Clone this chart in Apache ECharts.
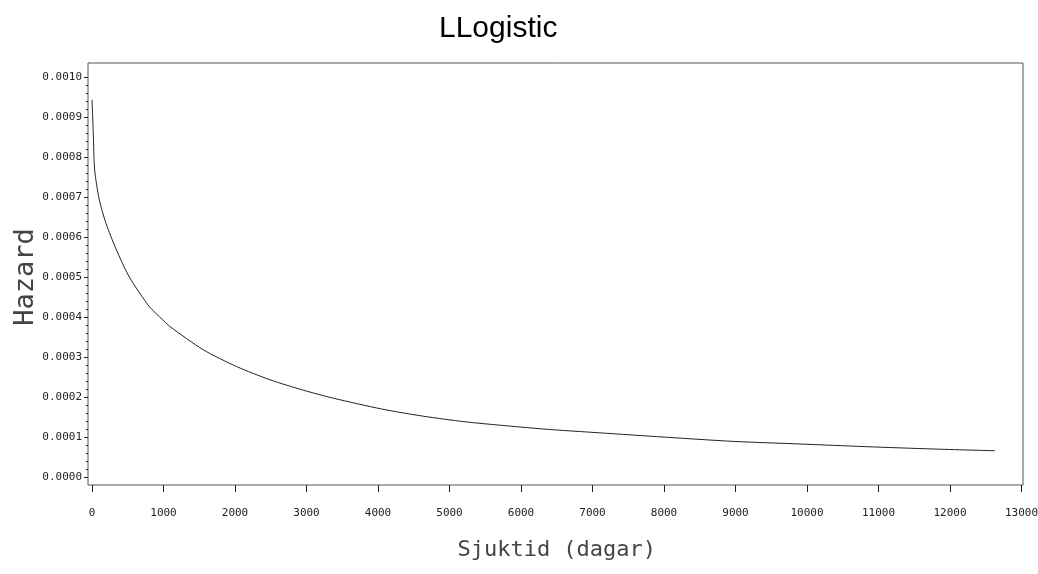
<!DOCTYPE html>
<html>
<head>
<meta charset="utf-8">
<script src="https://cdn.jsdelivr.net/npm/echarts@6/dist/echarts.min.js"></script>
<style>
html,body{margin:0;padding:0;background:#fff;}
#chart{width:1038px;height:574px;}
</style>
</head>
<body>
<div id="chart"></div>
<script>
// Data
var titleText = 'LLogistic';
var xName = 'Sjuktid (dagar)';
var yName = 'Hazard';
var timeDays = [0, 18, 37, 102, 196, 336, 522, 802, 989, 1091, 1557, 2024, 2490, 2956, 3375, 4051, 4634, 5217, 5800, 6382, 6965, 7897, 8969, 9902, 10835, 11767, 12630];
var hazard = [0.000943, 0.000859, 0.000768, 0.000693, 0.000634, 0.000570, 0.000500, 0.000426, 0.000393, 0.000376, 0.000318, 0.000276, 0.000243, 0.000217, 0.000197, 0.000170, 0.000152, 0.000138, 0.000128, 0.000119, 0.000112, 0.000101, 0.0000890, 0.0000825, 0.0000758, 0.0000700, 0.0000656];
var xTicks = {min: 0, max: 13000, interval: 1000};
var yTicks = {min: 0, max: 0.001, interval: 0.0001};

var points = timeDays.map(function (t, i) { return [t, hazard[i]]; });

var chart = echarts.init(document.getElementById('chart'), null, {renderer: 'canvas'});
var tickFont = {fontFamily: 'DejaVu Sans Mono', fontSize: 11, color: '#222'};
var nameFont = {fontFamily: "'DejaVu Sans Mono', monospace", fontWeight: 'normal', color: '#444'};

chart.setOption({
  animation: false,
  backgroundColor: '#ffffff',
  title: {
    text: titleText,
    left: 439,
    top: 14,
    padding: 0,
    textStyle: {fontFamily: "'Liberation Sans', Arial, sans-serif", fontSize: 30, fontWeight: 'normal', color: '#000'}
  },
  grid: [
    {left: 92, right: 16.5, top: 77, bottom: 97, containLabel: false, outerBoundsMode: 'none'},
    {left: 88, right: 15, top: 63, bottom: 89, containLabel: false, outerBoundsMode: 'none', show: true, borderColor: '#555', borderWidth: 1, backgroundColor: 'transparent', z: 0}
  ],
  xAxis: [
    {
      type: 'value', gridIndex: 0, position: 'bottom',
      min: xTicks.min, max: xTicks.max, interval: xTicks.interval,
      offset: 8,
      axisLine: {show: false, onZero: false},
      axisTick: {show: true, inside: false, length: 7, lineStyle: {color: '#222', width: 1}},
      axisLabel: Object.assign({margin: 23, formatter: function (v) { return String(v); }}, tickFont),
      splitLine: {show: false},
      name: xName, nameLocation: 'middle', nameGap: 54, nameMoveOverlap: false,
      nameTextStyle: Object.assign({fontSize: 22}, nameFont)
    },
    {type: 'value', gridIndex: 1, show: false, min: 0, max: 1}
  ],
  yAxis: [
    {
      type: 'value', gridIndex: 0, position: 'left',
      min: yTicks.min, max: yTicks.max, interval: yTicks.interval,
      offset: 4,
      axisLine: {show: false, onZero: false},
      axisTick: {show: true, inside: false, length: 4, lineStyle: {color: '#222', width: 1}},
      minorTick: {show: true, splitNumber: 5, length: 2, lineStyle: {color: '#222', width: 1}},
      axisLabel: Object.assign({margin: 6, formatter: function (v) { return v.toFixed(4); }}, tickFont),
      splitLine: {show: false},
      name: yName, nameLocation: 'middle', nameGap: 49, nameRotate: 90, nameMoveOverlap: false,
      nameTextStyle: Object.assign({fontSize: 27}, nameFont)
    },
    {type: 'value', gridIndex: 1, show: false, min: 0, max: 1}
  ],
  series: [{
    type: 'line',
    xAxisIndex: 0, yAxisIndex: 0,
    data: points,
    showSymbol: false,
    smooth: 0.25,
    lineStyle: {color: '#222', width: 1},
    z: 3
  }]
});
</script>
</body>
</html>
